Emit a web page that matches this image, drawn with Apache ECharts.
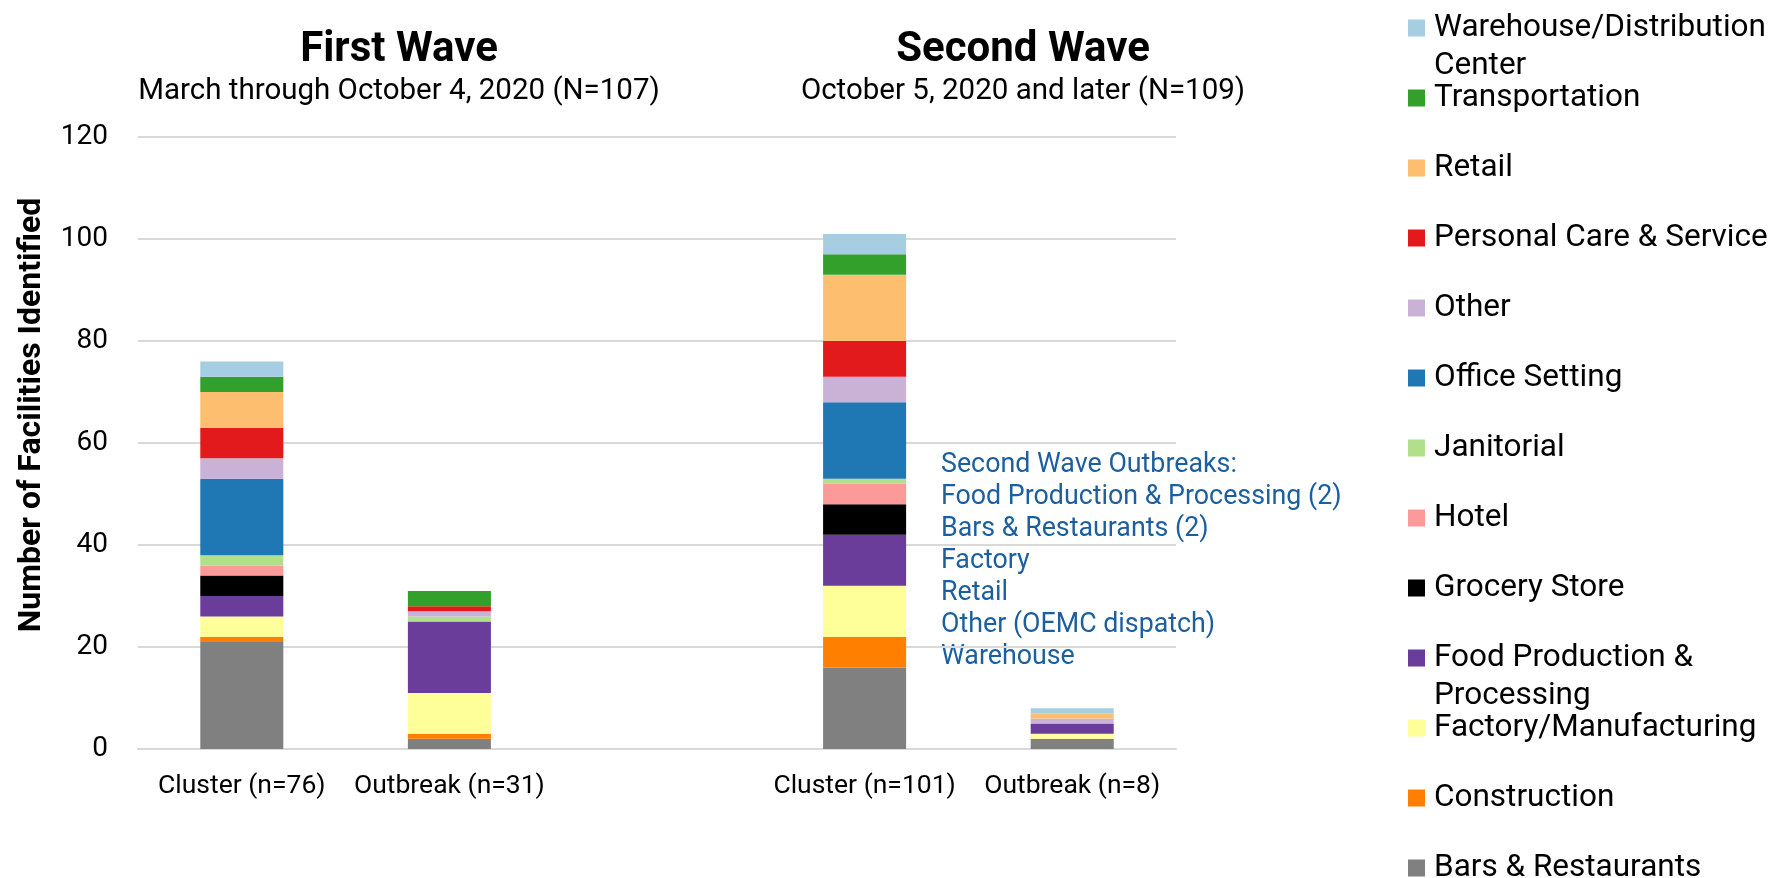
<!DOCTYPE html>
<html>
<head>
<meta charset="utf-8">
<script src="https://cdn.jsdelivr.net/npm/echarts@6/dist/echarts.min.js"></script>
<style>
  html, body { margin: 0; padding: 0; background: #fff; }
  #main { width: 1775px; height: 878px; }
</style>
</head>
<body>
<div id="main"></div>
<script>
// x categories; the empty slot separates the two waves
const categories = ['Cluster (n=76)', 'Outbreak (n=31)', '', 'Cluster (n=101)', 'Outbreak (n=8)'];

// facility counts per setting, bottom of stack first
const barsRestaurants = [21, 2, '-', 16, 2];
const construction    = [1, 1, '-', 6, 0];
const factory         = [4, 8, '-', 10, 1];
const foodProduction  = [4, 14, '-', 10, 2];
const grocery         = [4, 0, '-', 6, 0];
const hotel           = [2, 0, '-', 4, 0];
const janitorial      = [2, 1, '-', 1, 0];
const office          = [15, 0, '-', 15, 0];
const other           = [4, 1, '-', 5, 1];
const personalCare    = [6, 1, '-', 7, 0];
const retail          = [7, 0, '-', 13, 1];
const transportation  = [3, 3, '-', 4, 0];
const warehouse       = [3, 0, '-', 4, 1];

const yTicks = { min: 0, max: 120, interval: 20 };

const annotationLines = [
  'Second Wave Outbreaks:',
  'Food Production & Processing (2)',
  'Bars & Restaurants (2)',
  'Factory',
  'Retail',
  'Other (OEMC dispatch)',
  'Warehouse'
];

const seriesDefs = [
  ['Bars & Restaurants', barsRestaurants, '#808080'],
  ['Construction', construction, '#ff7f00'],
  ['Factory/Manufacturing', factory, '#ffff99'],
  ['Food Production & Processing', foodProduction, '#6a3d9a'],
  ['Grocery Store', grocery, '#000000'],
  ['Hotel', hotel, '#fb9a99'],
  ['Janitorial', janitorial, '#b2df8a'],
  ['Office Setting', office, '#1f78b4'],
  ['Other', other, '#cab2d6'],
  ['Personal Care & Service', personalCare, '#e31a1c'],
  ['Retail', retail, '#fdbf6f'],
  ['Transportation', transportation, '#33a02c'],
  ['Warehouse/Distribution Center', warehouse, '#a6cee3']
];

const wrapped = {
  'Warehouse/Distribution Center': 'Warehouse/Distribution\nCenter',
  'Food Production & Processing': 'Food Production &\nProcessing'
};

const FONT = 'Roboto';

const legendBase = {
  orient: 'vertical',
  left: 1408,
  height: 700,
  padding: 0,
  itemWidth: 17,
  itemHeight: 17,
  itemGap: 32,
  icon: 'rect',
  selectedMode: false,
  formatter: name => wrapped[name] || name,
  textStyle: { fontFamily: FONT, fontSize: 31.5, color: '#000', lineHeight: 38, padding: [0, 0, 0, 4] }
};

// square marker kept level with the first line of a wrapped legend label
const twoLineLegend = (name, top) => Object.assign({}, legendBase, {
  top: top,
  itemHeight: 55,
  icon: 'path://M0,0h17v17h-17z M0,54.9h0.1v0.1h-0.1z',
  data: [name]
});

const chart = echarts.init(document.getElementById('main'));

chart.setOption({
  animation: false,
  title: [
    {
      text: 'First Wave',
      subtext: 'March through October 4, 2020 (N=107)',
      left: 394, top: 24, textAlign: 'center', itemGap: 6,
      textStyle: { fontFamily: FONT, fontSize: 42, fontWeight: 'bold', color: '#000' },
      subtextStyle: { fontFamily: FONT, fontSize: 29.5, color: '#000' }
    },
    {
      text: 'Second Wave',
      subtext: 'October 5, 2020 and later (N=109)',
      left: 1018, top: 24, textAlign: 'center', itemGap: 6,
      textStyle: { fontFamily: FONT, fontSize: 42, fontWeight: 'bold', color: '#000' },
      subtextStyle: { fontFamily: FONT, fontSize: 29.5, color: '#000' }
    }
  ],
  legend: [
    twoLineLegend('Warehouse/Distribution Center', 9),
    Object.assign({}, legendBase, {
      top: 79,
      data: ['Transportation', 'Retail', 'Personal Care & Service', 'Other', 'Office Setting',
             'Janitorial', 'Hotel', 'Grocery Store']
    }),
    twoLineLegend('Food Production & Processing', 639),
    Object.assign({}, legendBase, { top: 709, data: ['Factory/Manufacturing', 'Construction', 'Bars & Restaurants'] })
  ],
  grid: { left: 138, right: 599, top: 137, bottom: 129 },
  xAxis: {
    type: 'category',
    data: categories,
    axisTick: { show: false },
    axisLine: { lineStyle: { color: '#d9d9d9', width: 2 } },
    axisLabel: { interval: 0, margin: 24, fontFamily: FONT, fontSize: 26.5, color: '#000' }
  },
  yAxis: {
    type: 'value',
    min: yTicks.min, max: yTicks.max, interval: yTicks.interval,
    name: 'Number of Facilities Identified',
    nameLocation: 'middle',
    nameGap: 90,
    nameTextStyle: { fontFamily: FONT, fontSize: 32, fontWeight: 'bold', color: '#000', padding: [0, 0, 0, 56] },
    axisLabel: { margin: 30, fontFamily: FONT, fontSize: 28, color: '#000' },
    splitLine: { lineStyle: { color: '#d9d9d9', width: 2 } }
  },
  series: seriesDefs.map(([name, data, color]) => ({
    name: name,
    type: 'bar',
    stack: 'all',
    barWidth: '40%',
    data: data,
    itemStyle: { color: color }
  })),
  graphic: [{
    type: 'text',
    left: 941,
    top: 449,
    style: {
      text: annotationLines.join('\n'),
      font: '26.8px Roboto',
      fill: '#1c5f9f',
      lineHeight: 32
    }
  }]
});
</script>
</body>
</html>
